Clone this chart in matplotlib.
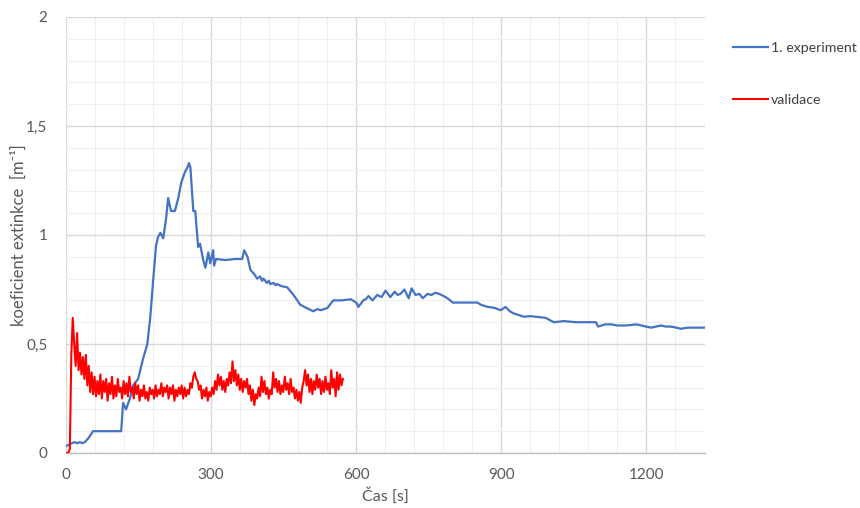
import numpy as np
import matplotlib
matplotlib.use("Agg")
import matplotlib.pyplot as plt
from matplotlib.ticker import MultipleLocator, FuncFormatter

# 1. experiment: time [s] and extinction coefficient [1/m]
exp_t = [0, 9, 18, 24, 30, 35, 40, 48, 57, 70, 88, 100, 115, 119, 125, 133, 140, 150,
         160, 169, 175, 181, 187, 191, 196, 202, 208, 212, 218, 226, 233, 239, 247, 252,
         255, 258, 264, 268, 274, 278, 284, 289, 295, 299, 305, 307, 311, 330, 350, 365,
         369, 376, 382, 390, 396, 402, 406, 409, 416, 420, 423, 430, 434, 437, 447, 458,
         471, 485, 498, 512, 520, 527, 541, 553, 570, 589, 601, 605, 615, 620, 626, 634,
         644, 653, 661, 671, 680, 686, 692, 700, 709, 715, 723, 731, 738, 748, 756, 764,
         772, 781, 789, 800, 837, 851, 858, 865, 872, 880, 887, 893, 899, 909, 918, 926,
         947, 960, 971, 992, 1000, 1009, 1030, 1054, 1075, 1096, 1100, 1115, 1127, 1140,
         1158, 1180, 1199, 1210, 1230, 1240, 1250, 1262, 1271, 1285, 1300, 1320]
exp_v = [0.03, 0.04, 0.05, 0.045, 0.05, 0.045, 0.05, 0.07, 0.10, 0.10, 0.10, 0.10, 0.10, 0.23,
         0.20, 0.25, 0.31, 0.34, 0.43, 0.50, 0.62, 0.79, 0.95, 0.99, 1.01, 0.985, 1.08,
         1.17, 1.11, 1.11, 1.17, 1.24, 1.29, 1.31, 1.33, 1.31, 1.11, 1.11, 0.945, 0.96,
         0.89, 0.85, 0.92, 0.87, 0.93, 0.86, 0.89, 0.885, 0.89, 0.89, 0.93, 0.90, 0.84,
         0.82, 0.80, 0.81, 0.79, 0.80, 0.78, 0.79, 0.775, 0.78, 0.77, 0.775, 0.765, 0.76,
         0.725, 0.68, 0.665, 0.65, 0.66, 0.655, 0.665, 0.70, 0.70, 0.705, 0.69, 0.67, 0.70,
         0.705, 0.72, 0.70, 0.725, 0.715, 0.745, 0.715, 0.74, 0.725, 0.73, 0.75, 0.71,
         0.755, 0.725, 0.73, 0.71, 0.73, 0.725, 0.735, 0.73, 0.72, 0.71, 0.69, 0.69, 0.69,
         0.68, 0.675, 0.67, 0.668, 0.665, 0.66, 0.655, 0.67, 0.65, 0.64, 0.625, 0.628,
         0.625, 0.62, 0.61, 0.60, 0.605, 0.60, 0.60, 0.60, 0.58, 0.59, 0.59, 0.585, 0.585,
         0.59, 0.58, 0.575, 0.585, 0.58, 0.58, 0.575, 0.57, 0.575, 0.575, 0.575]

# validation run, sampled every 3 s
val_v = [0.0, 0.0, 0.0, 0.02, 0.45, 0.62, 0.50, 0.40, 0.55, 0.38, 0.46, 0.36, 0.44, 0.34,
         0.45, 0.31, 0.40, 0.28, 0.37, 0.27, 0.35, 0.26, 0.33, 0.27, 0.36, 0.25, 0.33, 0.28,
         0.34, 0.24, 0.32, 0.27, 0.35, 0.25, 0.31, 0.26, 0.34, 0.28, 0.30, 0.25, 0.33, 0.27,
         0.32, 0.26, 0.35, 0.28, 0.30, 0.25, 0.32, 0.27, 0.31, 0.24, 0.29, 0.26, 0.31, 0.25,
         0.28, 0.24, 0.30, 0.27, 0.29, 0.25, 0.31, 0.26, 0.29, 0.27, 0.32, 0.26, 0.30, 0.28,
         0.31, 0.25, 0.30, 0.27, 0.31, 0.24, 0.29, 0.26, 0.30, 0.27, 0.31, 0.25, 0.30, 0.26,
         0.29, 0.27, 0.32, 0.30, 0.35, 0.37, 0.34, 0.33, 0.29, 0.31, 0.25, 0.29, 0.26, 0.30,
         0.24, 0.28, 0.26, 0.30, 0.27, 0.33, 0.29, 0.36, 0.31, 0.35, 0.29, 0.33, 0.28, 0.34,
         0.31, 0.37, 0.32, 0.42, 0.33, 0.38, 0.31, 0.36, 0.29, 0.34, 0.28, 0.33, 0.30, 0.34,
         0.27, 0.31, 0.24, 0.29, 0.22, 0.27, 0.25, 0.30, 0.26, 0.35, 0.28, 0.33, 0.27, 0.30,
         0.25, 0.29, 0.27, 0.37, 0.30, 0.34, 0.28, 0.33, 0.27, 0.31, 0.28, 0.35, 0.29, 0.32,
         0.27, 0.34, 0.28, 0.30, 0.25, 0.29, 0.24, 0.28, 0.23, 0.30, 0.33, 0.38, 0.31, 0.36,
         0.28, 0.34, 0.27, 0.33, 0.29, 0.36, 0.30, 0.34, 0.27, 0.33, 0.28, 0.35, 0.29, 0.32,
         0.27, 0.38, 0.30, 0.34, 0.26, 0.37, 0.29, 0.36, 0.31, 0.34]
val_t = np.arange(len(val_v)) * 3

x_ticks = [0, 300, 600, 900, 1200]
y_ticks = [0, 0.5, 1, 1.5, 2]

plt.rcParams['font.family'] = ['Lato', 'DejaVu Sans']

fig = plt.figure(figsize=(8.6, 5.08), dpi=100)
ax = fig.add_axes([65.5 / 860, 55 / 508, 639 / 860, 436 / 508])

ax.plot(exp_t, exp_v, color='#4472C4', lw=1.6, label='1. experiment', zorder=3)
ax.plot(val_t, val_v, color='#FF0000', lw=1.5, label='validace', zorder=4)

ax.set_xlim(0, 1320)
ax.set_ylim(0, 2)
ax.set_xticks(x_ticks)
ax.set_yticks(y_ticks)
ax.xaxis.set_minor_locator(MultipleLocator(60))
ax.yaxis.set_minor_locator(MultipleLocator(0.1))
ax.yaxis.set_major_formatter(FuncFormatter(lambda v, p: f"{v:g}".replace('.', ',')))

ax.grid(which='major', color='#d9d9d9', lw=1.0, zorder=0)
ax.grid(which='minor', color='#efefef', lw=0.8, zorder=0)
ax.set_axisbelow(True)

for side in ('top', 'right', 'left'):
    ax.spines[side].set_visible(False)
ax.spines['bottom'].set_color('#bfbfbf')
ax.spines['bottom'].set_linewidth(1.0)

ax.tick_params(which='both', length=0, colors='#595959', labelsize=11)
ax.tick_params(axis='x', pad=11)
ax.tick_params(axis='y', pad=13)

ax.set_xlabel('Čas [s]', fontsize=11.5, color='#595959')
ax.xaxis.set_label_coords(0.5, -34 / 436)
ax.set_ylabel('koeficient extinkce  [m⁻¹]', fontsize=12, color='#595959')
ax.yaxis.set_label_coords(-39 / 639, 0.5)

fig.legend(loc='center left', bbox_to_anchor=(733 / 860, 1 - 74 / 508),
           frameon=False, fontsize=10.2, labelcolor='#404040', handlelength=2.5,
           handletextpad=0.15, labelspacing=2.8, borderpad=0, borderaxespad=0)

fig.savefig('out.png', dpi=100)
